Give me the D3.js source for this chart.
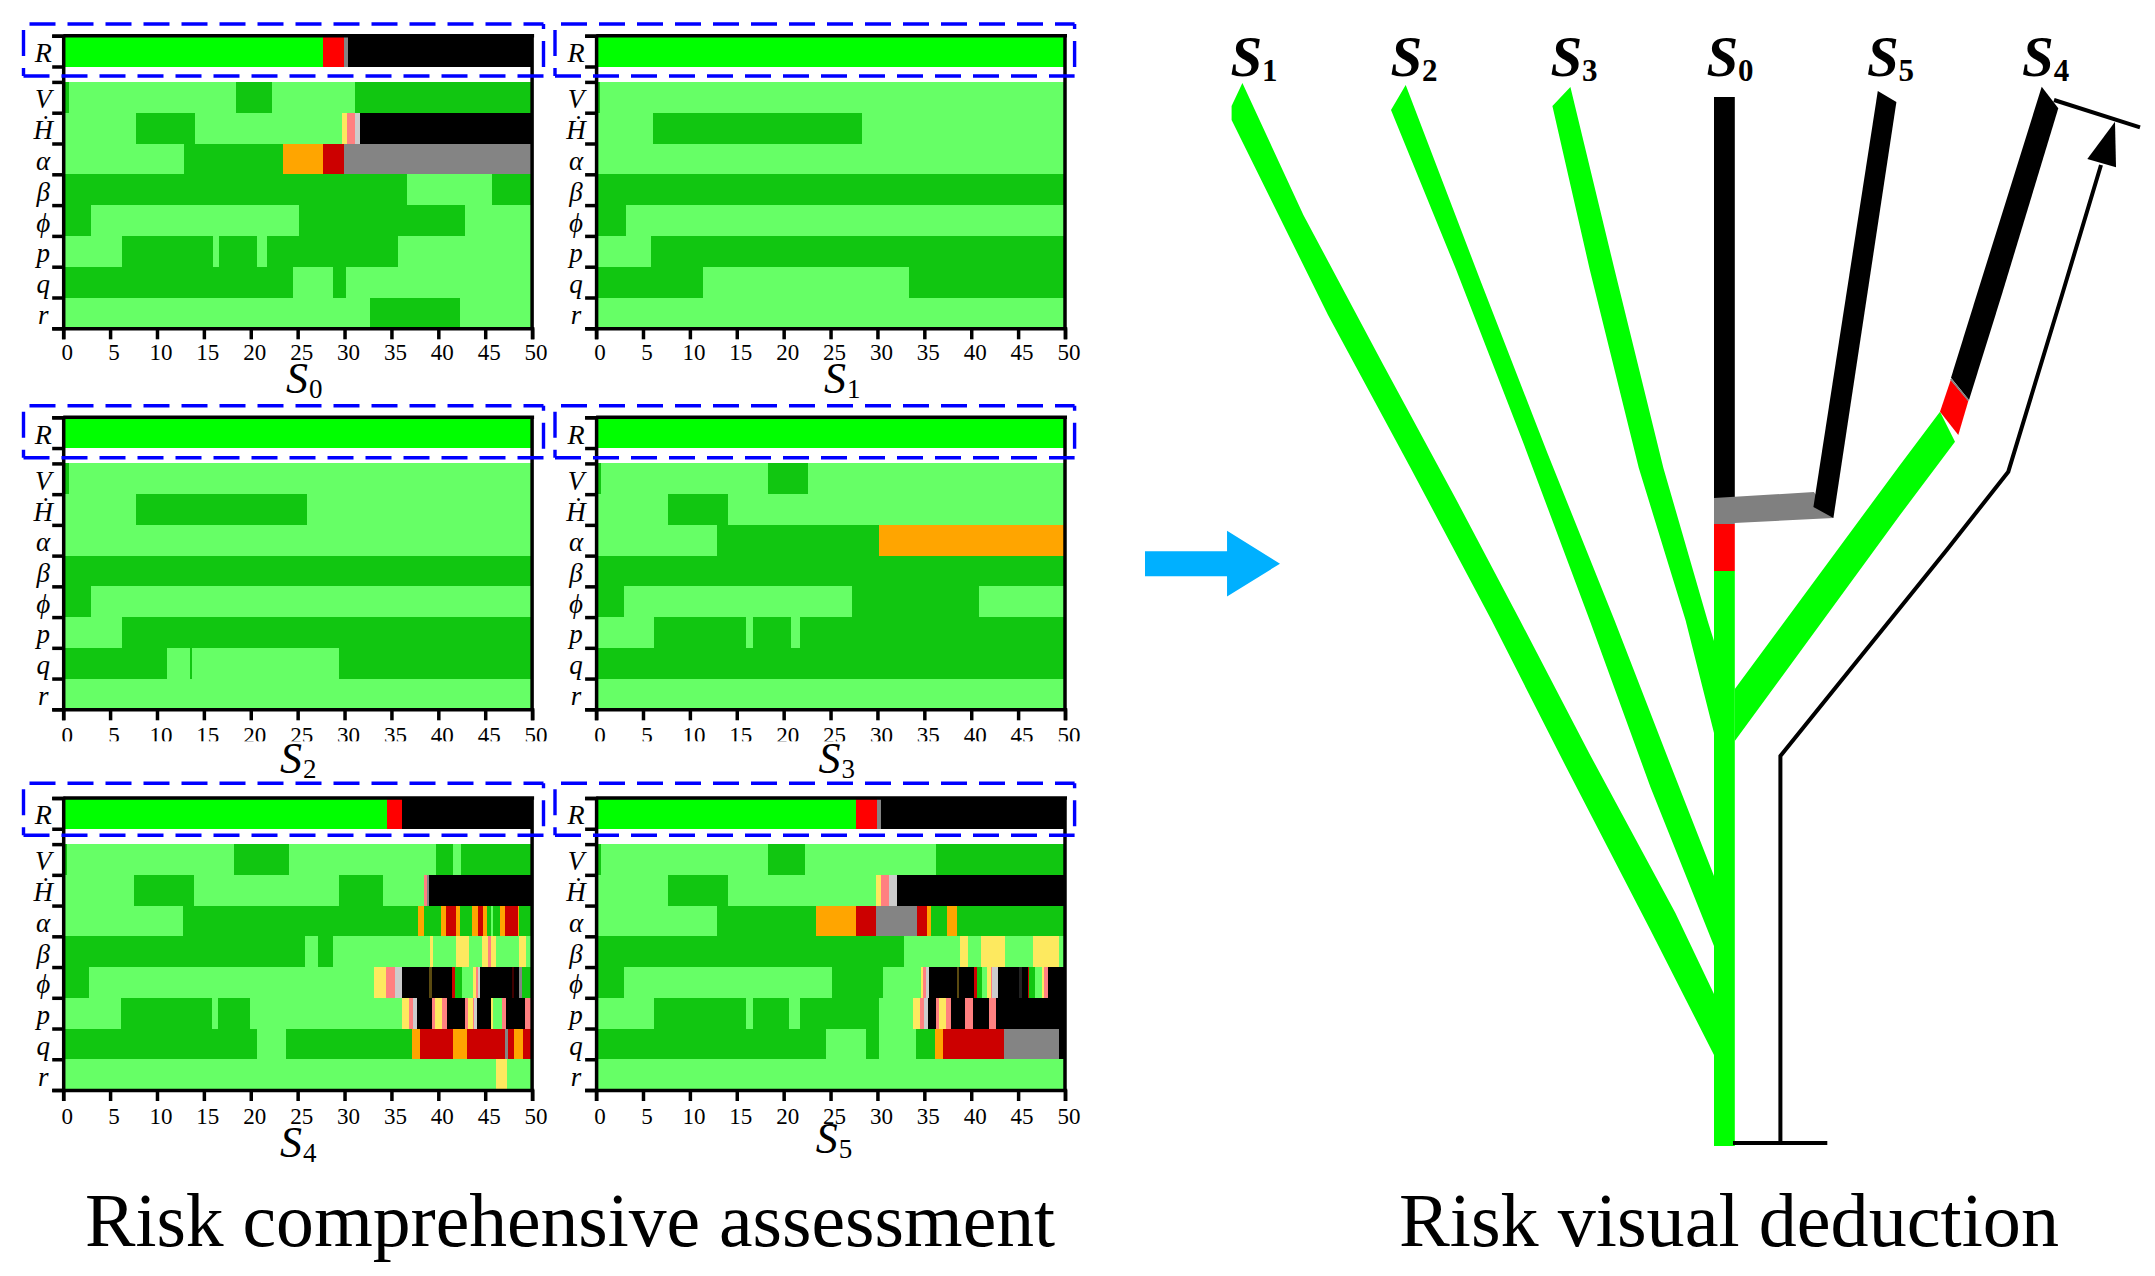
<!DOCTYPE html>
<html><head><meta charset="utf-8">
<script src="https://cdnjs.cloudflare.com/ajax/libs/d3/7.8.5/d3.min.js"></script>
<style>html,body{margin:0;padding:0;background:#fff}svg{display:block}text{font-family:"Liberation Serif",serif;fill:#000}</style>
</head><body><svg id="c" width="2155" height="1276"></svg>
<script>
// ---- heat-map data: each row is a run list [end time (s), risk level] ----
const rowNames = ["R","V","Ḣ","α","β","ϕ","p","q","r"];
const xTickValues = d3.range(0,51,5);
const rowStarts = [0,1.5,2.5,3.5,4.5,5.5,6.5,7.5,8.5];
const rowHeights = [1,1,1,1,1,1,1,1,1];
const yTickValues = [0,1,1.5,2.5,3.5,4.5,5.5,6.5,7.5,8.5,9.5];
const levels = ["G","L","D","O","Rd","C","A","K","Y","P","W","B","M","T"];
const levelColors = ["#00ff00","#66ff66","#11c611","#ffa500","#ff0000","#cc0000","#848484","#000000","#fde95f","#ff8080","#cccccc","#5a4a10","#400000","#222222"];

const S0 = [
 [[27.7,"G"],[29.9,"Rd"],[30.35,"A"],[50,"K"]],
 [[0.57,"D"],[18.4,"L"],[22.3,"D"],[31.1,"L"],[50,"D"]],
 [[7.73,"L"],[14.1,"D"],[29.74,"L"],[30.3,"Y"],[31.15,"P"],[31.7,"W"],[50,"K"]],
 [[12.87,"L"],[23.42,"D"],[27.72,"O"],[29.9,"C"],[50,"A"]],
 [[36.67,"D"],[45.73,"L"],[50,"D"]],
 [[2.97,"D"],[25.1,"L"],[42.84,"D"],[50,"L"]],
 [[6.25,"L"],[15.96,"D"],[16.64,"L"],[20.68,"D"],[21.74,"L"],[35.72,"D"],[50,"L"]],
 [[24.49,"D"],[28.79,"L"],[30.2,"D"],[50,"L"]],
 [[32.67,"L"],[42.3,"D"],[50,"L"]]
];
const S1 = [
 [[50,"G"]],
 [[0.38,"D"],[50,"L"]],
 [[6.09,"L"],[28.37,"D"],[50,"L"]],
 [[50,"L"]],
 [[50,"D"]],
 [[3.16,"D"],[50,"L"]],
 [[5.83,"L"],[50,"D"]],
 [[11.42,"D"],[33.4,"L"],[50,"D"]],
 [[50,"L"]]
];
const S2 = [
 [[50,"G"]],
 [[0.57,"D"],[50,"L"]],
 [[7.73,"L"],[25.97,"D"],[50,"L"]],
 [[50,"L"]],
 [[50,"D"]],
 [[2.97,"D"],[50,"L"]],
 [[6.25,"L"],[50,"D"]],
 [[11.08,"D"],[13.52,"L"],[13.75,"D"],[29.4,"L"],[50,"D"]],
 [[50,"L"]]
];
const S3 = [
 [[50,"G"]],
 [[0.57,"D"],[18.3,"L"],[22.6,"D"],[50,"L"]],
 [[7.65,"L"],[14.05,"D"],[50,"L"]],
 [[12.9,"L"],[30.16,"D"],[50,"O"]],
 [[50,"D"]],
 [[2.93,"D"],[27.27,"L"],[40.8,"D"],[50,"L"]],
 [[6.2,"L"],[16,"D"],[16.68,"L"],[20.75,"D"],[21.74,"L"],[50,"D"]],
 [[50,"D"]],
 [[50,"L"]]
];
const S4 = [
 [[34.5,"G"],[36.17,"Rd"],[50,"K"]],
 [[0.42,"D"],[18.2,"L"],[24.07,"D"],[39.76,"L"],[41.55,"D"],[42.42,"L"],[50,"D"]],
 [[7.58,"L"],[13.9,"D"],[29.36,"L"],[34.12,"D"],[38.5,"L"],[38.8,"P"],[39,"A"],[50,"K"]],
 [[12.76,"L"],[37.87,"D"],[38.5,"O"],[40.29,"D"],[40.82,"O"],[41.89,"C"],[42.31,"O"],[43.63,"D"],[44.23,"O"],[44.8,"C"],[45.23,"O"],[45.6,"D"],[45.87,"L"],[46.58,"D"],[47.11,"O"],[48.46,"C"],[48.64,"O"],[50,"D"]],
 [[25.82,"D"],[27.15,"L"],[28.75,"D"],[39.11,"L"],[39.47,"Y"],[41.92,"L"],[43.3,"Y"],[44.69,"L"],[45.26,"Y"],[45.6,"P"],[46.15,"Y"],[48.57,"L"],[49.3,"Y"],[50,"L"]],
 [[2.78,"D"],[33.13,"L"],[34.42,"Y"],[35.4,"P"],[36.16,"W"],[39.04,"K"],[39.29,"B"],[41.42,"K"],[41.78,"C"],[42.52,"D"],[43.73,"L"],[44,"Y"],[44.27,"P"],[44.48,"W"],[47.9,"K"],[48.1,"M"],[48.64,"K"],[48.89,"A"],[50,"D"]],
 [[6.13,"L"],[15.84,"D"],[16.53,"L"],[19.88,"D"],[36.09,"L"],[36.87,"Y"],[37.33,"P"],[37.69,"W"],[39.29,"K"],[39.65,"P"],[40.43,"Y"],[40.9,"P"],[42.88,"K"],[43.2,"P"],[43.66,"Y"],[43.85,"P"],[44.09,"W"],[45.58,"K"],[45.87,"Y"],[46.75,"L"],[47.18,"P"],[49.28,"K"],[50,"P"]],
 [[20.68,"D"],[23.72,"L"],[37.19,"D"],[38.05,"O"],[41.53,"C"],[43.09,"O"],[47.11,"C"],[47.4,"A"],[48.07,"C"],[49.07,"O"],[50,"C"]],
 [[46.15,"L"],[47.29,"Y"],[50,"L"]]
];
const S5 = [
 [[27.72,"G"],[29.9,"Rd"],[30.4,"A"],[50,"K"]],
 [[0.57,"D"],[18.32,"L"],[22.3,"D"],[36.2,"L"],[50,"D"]],
 [[7.65,"L"],[14.05,"D"],[29.82,"L"],[30.39,"Y"],[31.2,"P"],[32.1,"W"],[50,"K"]],
 [[12.9,"L"],[23.42,"D"],[27.72,"O"],[29.89,"C"],[34.19,"A"],[35.26,"C"],[35.69,"O"],[37.46,"D"],[38.46,"O"],[50,"D"]],
 [[32.8,"D"],[38.81,"L"],[39.63,"Y"],[41.05,"L"],[43.61,"Y"],[46.63,"L"],[49.34,"Y"],[50,"L"]],
 [[2.93,"D"],[25.17,"L"],[30.57,"D"],[34.65,"L"],[34.83,"Y"],[35.19,"P"],[35.54,"W"],[38.46,"K"],[38.67,"B"],[40.31,"K"],[40.59,"C"],[41.12,"D"],[41.73,"L"],[42.08,"Y"],[42.26,"P"],[42.87,"W"],[45.14,"K"],[45.43,"T"],[46.1,"K"],[46.21,"C"],[46.81,"D"],[47.52,"L"],[47.8,"Y"],[48.23,"P"],[50,"K"]],
 [[6.2,"L"],[16,"D"],[16.68,"L"],[20.6,"D"],[21.74,"L"],[30.2,"D"],[33.8,"L"],[34.51,"Y"],[35,"P"],[35.36,"W"],[36.25,"K"],[36.57,"P"],[37.28,"Y"],[37.85,"P"],[39.35,"K"],[40.16,"P"],[41.87,"K"],[42.65,"P"],[50,"K"]],
 [[24.52,"D"],[28.79,"L"],[30.21,"D"],[34.12,"L"],[36.18,"D"],[37,"O"],[43.47,"C"],[49.34,"A"],[50,"K"]],
 [[50,"L"]]
];
const panelRuns = [S0,S1,S2,S3,S4,S5];
const panelNames = ["0","1","2","3","4","5"];

// ---- tree data: lateral offset from the S0 trunk, height above the base ----
const branchS1 = [[-482,1063],[-421,931],[-341,781],[-268.5,647],[-204.6,526],[-134.8,392],[-49,233],[-10.4,152],[-10.4,91],[-74,216],[-158.8,380],[-233,526],[-313.8,678],[-396.4,831],[-492.8,1026],[-492.8,1040]];
const branchS2 = [[-318.7,1061],[-244,865.5],[-177,693],[-110,526],[-55,384],[-10.4,270],[-10.4,200],[-74,359],[-134.8,526],[-201.6,704.5],[-268.5,877],[-333.4,1036]];
const branchS3 = [[-154,1059],[-110,877],[-61,678],[-16.7,525],[-10.4,505],[-10.4,413],[-38.9,526],[-85.6,678],[-134.8,877],[-172,1040]];
const branchS4Green = [[10.4,457],[175.6,681],[215.6,734.3],[230.6,704.3],[175.6,631],[10.4,405]];
const branchS4Red = [[226.3,766],[243.9,745],[233.9,711],[215.6,734.3]];
const branchS4Black = [[226.6,768.3],[252.3,851],[317.3,1059.3],[333.9,1037.7],[277.3,851],[244.6,746]];
const branchS4Seam = [[226.3,767],[244.2,745.5]];
const branchS5Grey = [[-10.4,648],[89.5,654],[109,628],[-10.4,622]];
const branchS5Black = [[153.4,1055],[172,1044],[109,628],[89,639]];
const trunkStops = [0,575,622,648,1049];
const trunkColors = ["#00ff00","#ff0000","#808080","#000000"];
const routeLine = [[56,3],[56,390],[222.3,596],[283.9,674.3],[337.6,851],[376.6,981]];
const routeBase = [[8.6,3],[102.9,3]];
const routeEnd = [[329.6,1046],[415.6,1018.7]];
const routeHead = [[390.6,1024.3],[362.9,987],[391.6,978.7]];
const treeLabels = ["1","2","3","0","5","4"];
const treeLabelLateral = [-494,-334,-174,-18,142.5,297.6];

const svg = d3.select("#c");
const colorOf = d3.scaleOrdinal(levels, levelColors);

// panel frames
const colLeft = [63.2,596.1], colRight = [532.1,1065];
const rowTop = [35.7,417.3,798], rowBottom = [328.3,709.3,1090];
const tickLabelDrop = [32,34,34];
const labelPos = [[286,393],[824,393],[280,773],[818.6,773],[280,1157],[815.7,1153]];
const boxLeft = [23.5,555], boxRight = [543.5,1074.6];
const boxTop = [24,405.7,783.3], boxBottom = [76,457.7,835.3];

panelRuns.forEach((runs,i)=>{
  const c=i%2, r=Math.floor(i/2);
  const x=d3.scaleLinear([0,50],[colLeft[c],colRight[c]]);
  const y=d3.scaleLinear([0,9.5],[rowTop[r],rowBottom[r]]);
  const g=svg.append("g");
  runs.forEach((row,k)=>{
    const segs=row.map((d,j)=>({x0:j?row[j-1][0]:0,x1:d[0],level:d[1]}));
    g.append("g").attr("shape-rendering","crispEdges").selectAll("rect").data(segs).join("rect")
      .attr("x",d=>x(d.x0)).attr("width",d=>x(d.x1)-x(d.x0))
      .attr("y",y(rowStarts[k])).attr("height",y(rowStarts[k]+rowHeights[k])-y(rowStarts[k]))
      .attr("fill",d=>colorOf(d.level));
    g.append("text").attr("x",colLeft[c]-20).attr("y",(y(rowStarts[k])+y(rowStarts[k]+rowHeights[k]))/2+11)
      .attr("text-anchor","middle").attr("font-size",k==0?28:27).attr("font-style","italic").text(rowNames[k]);
  });
  // axes
  const ax=g.append("g").attr("transform",`translate(0,${rowBottom[r]})`)
    .call(d3.axisBottom(x).tickValues(xTickValues).tickSize(11).tickFormat(d3.format("d")));
  ax.selectAll("text").attr("y",tickLabelDrop[r]).attr("dy",0).attr("dx",3.5).attr("font-size",23)
    .style("font-family",'"Liberation Serif"');
  const ay=g.append("g").attr("transform",`translate(${colLeft[c]},0)`)
    .call(d3.axisLeft(y).tickValues(yTickValues).tickSize(11).tickFormat(""));
  [ax,ay].forEach(a=>{a.selectAll("path").attr("stroke-width",3.5).attr("stroke","#000");
    a.selectAll("line").attr("stroke-width",3.5).attr("stroke","#000");});
  g.append("line").attr("x1",colLeft[c]).attr("x2",colRight[c]+2).attr("y1",rowTop[r]).attr("y2",rowTop[r]).attr("stroke","#000").attr("stroke-width",3.5);
  g.append("line").attr("x1",colRight[c]).attr("x2",colRight[c]).attr("y1",rowTop[r]).attr("y2",rowBottom[r]).attr("stroke","#000").attr("stroke-width",3.5);
  // the middle row's tick labels are trimmed along their feet in the source
  if(r==1) g.append("rect").attr("x",colLeft[c]-20).attr("y",rowBottom[r]+32).attr("width",colRight[c]-colLeft[c]+50).attr("height",5).attr("fill","#fff");
  // panel label
  const t=g.append("text").attr("x",labelPos[i][0]).attr("y",labelPos[i][1]).attr("font-size",44);
  t.append("tspan").attr("font-style","italic").text("S");
  t.append("tspan").attr("font-size",27).attr("dy",5).attr("dx",1).text(panelNames[i]);
  // dashed selection box
  const bx0=boxLeft[c],bx1=boxRight[c],by0=boxTop[r],by1=boxBottom[r];
  const sides=[[[bx0,by0],[bx1,by0],-6],[[bx1,by0],[bx1,by1],21],[[bx0,by1],[bx1,by1],0],[[bx0,by1],[bx0,by0],18]];
  sides.forEach(s=>g.append("line").attr("x1",s[0][0]).attr("y1",s[0][1]).attr("x2",s[1][0]).attr("y2",s[1][1])
    .attr("stroke","#0000ff").attr("stroke-width",3.4).attr("stroke-dasharray","26 12").attr("stroke-dashoffset",s[2]));
});

// tree
const xT=d3.scaleLinear([-600,430.6],[1124.4,2155]);
const yT=d3.scaleLinear([0,1146],[1146,0]);
const poly=d3.line().x(d=>xT(d[0])).y(d=>yT(d[1]));
const tree=svg.append("g");
tree.selectAll("rect").data(trunkColors).join("rect")
  .attr("x",xT(-10.4)).attr("width",xT(10.4)-xT(-10.4))
  .attr("y",(d,i)=>yT(trunkStops[i+1])).attr("height",(d,i)=>yT(trunkStops[i])-yT(trunkStops[i+1]))
  .attr("fill",d=>d);
[[branchS1,"#00ff00"],[branchS2,"#00ff00"],[branchS3,"#00ff00"],[branchS4Green,"#00ff00"],[branchS4Red,"#ff0000"],[branchS4Black,"#000000"],[branchS5Grey,"#808080"],[branchS5Black,"#000000"]]
 .forEach(b=>tree.append("path").attr("d",poly(b[0])+"Z").attr("fill",b[1]));
tree.append("path").attr("d",poly(branchS4Seam)).attr("stroke","#808080").attr("stroke-width",1.6).attr("fill","none");
[routeLine,routeBase,routeEnd].forEach(l=>tree.append("path").attr("d",poly(l)).attr("fill","none").attr("stroke","#000").attr("stroke-width",4));
tree.append("path").attr("d",poly(routeHead)+"Z").attr("fill","#000");
treeLabels.forEach((s,i)=>{
  const t=tree.append("text").attr("x",xT(treeLabelLateral[i])).attr("y",75.5).attr("font-size",57).attr("font-weight","bold");
  t.append("tspan").attr("font-style","italic").text("S");
  t.append("tspan").attr("font-size",31).attr("dy",5).attr("dx",0).text(s);
});

// cyan arrow
const arrowShape=[[0,12.5],[79,12.5],[79,33],[130,0],[79,-33],[79,-12.5],[0,-12.5]];
const xA=d3.scaleLinear([0,130],[1145,1280]), yA=d3.scaleLinear([-33,33],[596.6,530.7]);
svg.append("path").attr("fill","#00b0ff").attr("d",d3.line().x(d=>xA(d[0])).y(d=>yA(d[1]))(arrowShape)+"Z");

// captions
svg.append("text").attr("x",85).attr("y",1246).attr("font-size",76).attr("textLength",970).attr("lengthAdjust","spacingAndGlyphs").text("Risk comprehensive assessment");
svg.append("text").attr("x",1399).attr("y",1246).attr("font-size",76).attr("textLength",660).attr("lengthAdjust","spacingAndGlyphs").text("Risk visual deduction");
</script></body></html>
